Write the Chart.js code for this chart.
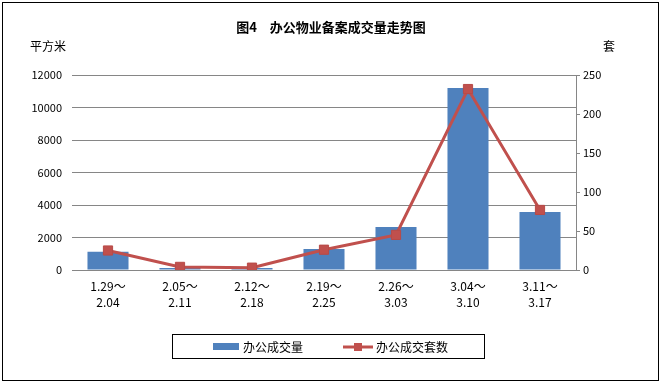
<!DOCTYPE html>
<html>
<head>
<meta charset="utf-8">
<script src="https://cdn.jsdelivr.net/npm/chart.js@4/dist/chart.umd.min.js"></script>
<style>
  html, body { margin: 0; padding: 0; background: #fff; }
  #wrap { position: relative; width: 663px; height: 385px; }
</style>
</head>
<body>
<div id="wrap"><canvas id="chart" width="663" height="385"></canvas></div>
<script>
const TITLE = "图4\u3000办公物业备案成交量走势图";
const LEFT_UNIT = "平方米";
const RIGHT_UNIT = "套";

const weeks = [
  ["1.29～", "2.04"],
  ["2.05～", "2.11"],
  ["2.12～", "2.18"],
  ["2.19～", "2.25"],
  ["2.26～", "3.03"],
  ["3.04～", "3.10"],
  ["3.11～", "3.17"],
];
const areaLabel = "办公成交量";
const areaValues = [1130, 125, 120, 1300, 2650, 11200, 3570];
const unitLabel = "办公成交套数";
const unitValues = [25, 4, 3, 26, 45, 232, 77];

const BLUE = "#4f81bd";
const RED = "#c0504d";
const GRID = "#868686";
const FONT = "'Noto Sans CJK SC', 'Liberation Sans', sans-serif";

// title, unit captions, boxed legend and outer frame
const decorations = {
  id: "decorations",
  afterDraw(chart) {
    const ctx = chart.ctx;
    ctx.save();
    ctx.strokeStyle = "#000";
    ctx.lineWidth = 1;
    ctx.strokeRect(2.5, 2.5, 656, 378);

    ctx.fillStyle = "#000";
    ctx.textBaseline = "middle";
    ctx.font = "bold 13px " + FONT;
    ctx.textAlign = "center";
    ctx.fillText(TITLE, 331, 27);

    ctx.font = "12px " + FONT;
    ctx.textAlign = "left";
    ctx.fillText(LEFT_UNIT, 30, 46);
    ctx.textAlign = "center";
    ctx.fillText(RIGHT_UNIT, 609, 46);

    // legend
    ctx.strokeRect(172.5, 334.5, 312, 24);
    const ly = 347;
    ctx.fillStyle = BLUE;
    ctx.fillRect(213, ly - 4, 26, 7);
    ctx.fillStyle = "#000";
    ctx.textAlign = "left";
    ctx.fillText(areaLabel, 243, ly);
    ctx.strokeStyle = RED;
    ctx.lineWidth = 3;
    ctx.beginPath();
    ctx.moveTo(343, ly);
    ctx.lineTo(373, ly);
    ctx.stroke();
    ctx.fillStyle = RED;
    ctx.fillRect(354, ly - 4, 8, 8);
    ctx.fillStyle = "#000";
    ctx.fillText(unitLabel, 376, ly);
    ctx.restore();
  },
};

new Chart(document.getElementById("chart"), {
  data: {
    labels: weeks,
    datasets: [
      {
        type: "line",
        label: unitLabel,
        data: unitValues,
        yAxisID: "y1",
        borderColor: RED,
        backgroundColor: RED,
        borderWidth: 3,
        tension: 0,
        pointStyle: "rect",
        pointRadius: 6.5,
        pointBorderWidth: 1,
        pointBorderColor: "#b84a47",
        pointBackgroundColor: RED,
        order: 1,
      },
      {
        type: "bar",
        label: areaLabel,
        data: areaValues,
        yAxisID: "y",
        backgroundColor: BLUE,
        barPercentage: 0.57,
        categoryPercentage: 1,
        order: 2,
      },
    ],
  },
  options: {
    responsive: false,
    animation: false,
    events: [],
    layout: { padding: { top: 75, left: 0, right: 0, bottom: 0 } },
    plugins: {
      legend: { display: false },
      title: { display: false },
      tooltip: { enabled: false },
    },
    scales: {
      x: {
        offset: true,
        grid: { display: false },
        border: { display: true, color: GRID, width: 1 },
        ticks: {
          color: "#000",
          padding: 0,
          maxRotation: 0,
          autoSkip: false,
          font: { family: FONT, size: 12, lineHeight: 1.35 },
        },
        afterFit(scale) { scale.height = 115; },
      },
      y: {
        position: "left",
        min: 0,
        max: 12000,
        grid: { color: GRID, drawTicks: false },
        border: { display: false },
        ticks: {
          stepSize: 2000,
          color: "#000",
          padding: 10,
          font: { family: FONT, size: 11 },
          callback: (value) => String(value),
        },
        afterFit(scale) { scale.width = 72; },
      },
      y1: {
        position: "right",
        min: 0,
        max: 250,
        grid: { drawOnChartArea: false, color: GRID, tickLength: 4 },
        border: { display: true, color: GRID },
        ticks: {
          stepSize: 50,
          color: "#000",
          padding: 3,
          font: { family: FONT, size: 11 },
          callback: (value) => String(value),
        },
        afterFit(scale) { scale.width = 87; },
      },
    },
  },
  plugins: [decorations],
});
</script>
</body>
</html>
